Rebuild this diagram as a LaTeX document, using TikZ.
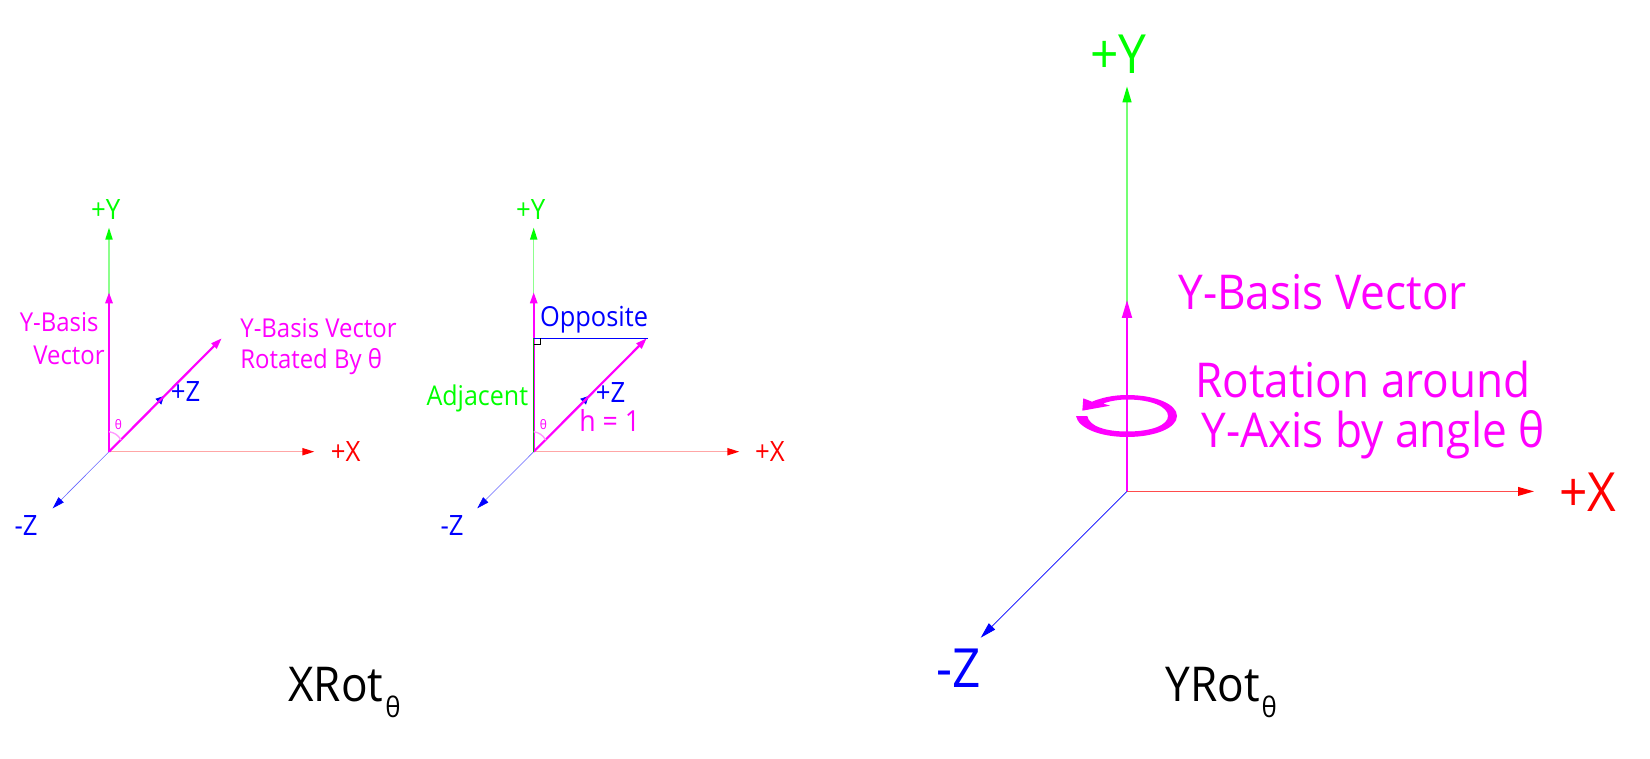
\documentclass[tikz,border=0pt]{standalone}
\usepackage{fontspec}
\setmainfont[FakeStretch=0.92]{Open Sans}
\usetikzlibrary{arrows.meta}
\definecolor{mag}{RGB}{255,0,255}
\definecolor{gre}{RGB}{0,255,0}
\definecolor{blu}{RGB}{0,0,255}
\definecolor{re}{RGB}{255,0,0}
\newcommand{\fs}[1]{\fontsize{#1}{#1}\selectfont}
\tikzset{
 x=0.5pt,y=-0.5pt,
 lab/.style={inner sep=0pt,align=center,font=\fs{13}},
 labb/.style={inner sep=0pt,align=center,font=\fs{14}},
 big/.style={inner sep=0pt,align=center,font=\fs{24}},
 axs/.style={line width=0.7pt,-{Triangle[length=6pt,width=3.6pt,color=#1]}},
 axz/.style={line width=0.3pt,-{Triangle[length=6pt,width=3.6pt,color=blu]}},
 axp/.style={line width=0.3pt,-{Triangle[length=4pt,width=4pt]}},
 axb/.style={line width=0.4pt,-{Triangle[length=8pt,width=4.4pt,color=#1]}},
 vec/.style={mag,line width=1.1pt,-{Triangle[length=5.5pt,width=3.6pt]}},
 ang/.style={mag!40!white,line width=0.7pt},
}
\begin{document}
\begin{tikzpicture}
\useasboundingbox (0,0) rectangle (1650,759);
% left
\coordinate (o1) at (109,451.7);
\coordinate (y1) at (109,227.7);
\coordinate (x1) at (314.3,451.7);
\coordinate (zm1) at (52.7,508.3);
\coordinate (zp1) at (164,396);
\coordinate (b1) at (109,292.3);
\coordinate (r1) at (221.7,338.3);
\draw[axs=gre,gre!45!white] (o1) -- (y1);
\draw[axs=re,re!35!white] (o1) -- (x1);
\draw[axz,blu!60!white] (o1) -- (zm1);
\draw[axp,blu] (o1) -- (zp1);
\draw[vec] (o1) -- (b1);
\draw[vec] (o1) -- (r1);
\draw[ang] (109,431.7) to[bend left=25] (121,440);
\node[labb,gre] (ly1) at (105.7,209.3) {+Y};
\node[labb,re] (lx1) at (345.7,451.7) {+X};
\node[labb,blu] (lz1) at (185.7,391.7) {+Z};
\node[labb,blu] (lm1) at (26,526) {-Z};
\node[lab,mag,anchor=east] (ya) at (99,321.7) {Y-Basis};
\node[lab,mag,anchor=east] (yb) at (105,355) {Vector};
\node[lab,mag,anchor=west] (yc) at (240,328.3) {Y-Basis Vector};
\node[lab,mag,anchor=west] (yd) at (240,361.7) {Rotated By θ};
\node[inner sep=0pt,mag,font=\fs{6.5}] (t1) at (118.3,424.3) {θ};
% middle
\coordinate (o2) at (533.7,451.7);
\coordinate (y2) at (533.7,227.7);
\coordinate (x2) at (739.3,451.7);
\coordinate (zm2) at (477.3,508.3);
\coordinate (zp2) at (588.7,396);
\coordinate (b2) at (533.7,292.3);
\coordinate (r2) at (646.7,338.3);
\coordinate (c2) at (533.7,338.3);
\coordinate (e2) at (648,338.3);
\draw[axs=gre,gre!45!white] (o2) -- (y2);
\draw[axs=re,re!35!white] (o2) -- (x2);
\draw[axz,blu!60!white] (o2) -- (zm2);
\draw[axp,blu] (o2) -- (zp2);
\draw[vec] (o2) -- (b2);
\draw[vec] (o2) -- (r2);
\draw[gre!70!black,line width=0.6pt] (o2) -- (c2);
\draw[blu,line width=0.5pt] (c2) -- (e2);
\draw[black,line width=0.3pt] (534,344.5) -- (540.5,344.5) -- (540.5,338.3);
\draw[ang] (533.7,431.7) to[bend left=25] (545.7,440);
\node[labb,gre] (ly2) at (530.7,209.3) {+Y};
\node[labb,re] (lx2) at (770,451.7) {+X};
\node[labb,blu] (lz2) at (610.7,392.7) {+Z};
\node[labb,blu] (lm2) at (452,526) {-Z};
\node[labb,blu,font=\fs{13.8}] (op) at (594,320) {Opposite};
\node[lab,gre,font=\fs{13.6}] (ad) at (477.3,398.3) {Adjacent};
\node[labb,mag,font=\fs{14.5}] (h) at (609.7,420.7) {h = 1};
\node[inner sep=0pt,mag,font=\fs{6.5}] (t2) at (543.3,424.3) {θ};
% right
\coordinate (o3) at (1127,491.4);
\coordinate (y3) at (1127,86.3);
\coordinate (x3) at (1534,491.4);
\coordinate (zm3) at (980.7,637.7);
\coordinate (b3) at (1127,300);
\draw[axb=gre,line width=0.9pt,gre!55!white] (o3) -- (y3);
\draw[axb=re,line width=0.6pt,re!70!white] (o3) -- (x3);
\draw[axb=blu,blu] (o3) -- (zm3);
\draw[mag,line width=1pt,-{Triangle[length=9pt,width=5pt]}] (o3) -- (b3);
\fill[mag] (1076,416) .. controls (1078,428) and (1100,437) .. (1127,437)
  .. controls (1155,437) and (1177,428) .. (1177,416)
  .. controls (1177,404) and (1155,395) .. (1127,395)
  .. controls (1114,395) and (1102,397.5) .. (1092,401.7)
  -- (1083.3,398.3) -- (1082.3,410.7) -- (1110,405.7) -- (1103,403.5)
  .. controls (1110,401) and (1119,399.5) .. (1127,399.5)
  .. controls (1152,399.5) and (1168,407) .. (1168,416)
  .. controls (1168,425) and (1152,431.5) .. (1127,431.5)
  .. controls (1105,431.5) and (1089,426) .. (1087.3,416) -- cycle;
\node[big,gre,font=\fs{27}] (ly3) at (1118.6,54.6) {+Y};
\node[big,re,font=\fs{27}] (lx3) at (1588,492) {+X};
\node[big,blu,font=\fs{27}] (lm3) at (958.6,668) {-Z};
\node[big,mag] (l1) at (1322.6,292.5) {Y-Basis Vector};
\node[big,mag] (l2) at (1363,380) {Rotation around};
\node[big,mag] (l3) at (1373,434.6) {Y-Axis by angle θ};
\node[big,black,anchor=base west] (xr) at (288,701.7) {XRot\kern1pt\raisebox{-8pt}{\fs{14}θ}};
\node[big,black,anchor=base west] (yr) at (1165,701.7) {YRot\kern1pt\raisebox{-8pt}{\fs{14}θ}};
\end{tikzpicture}
\end{document}
